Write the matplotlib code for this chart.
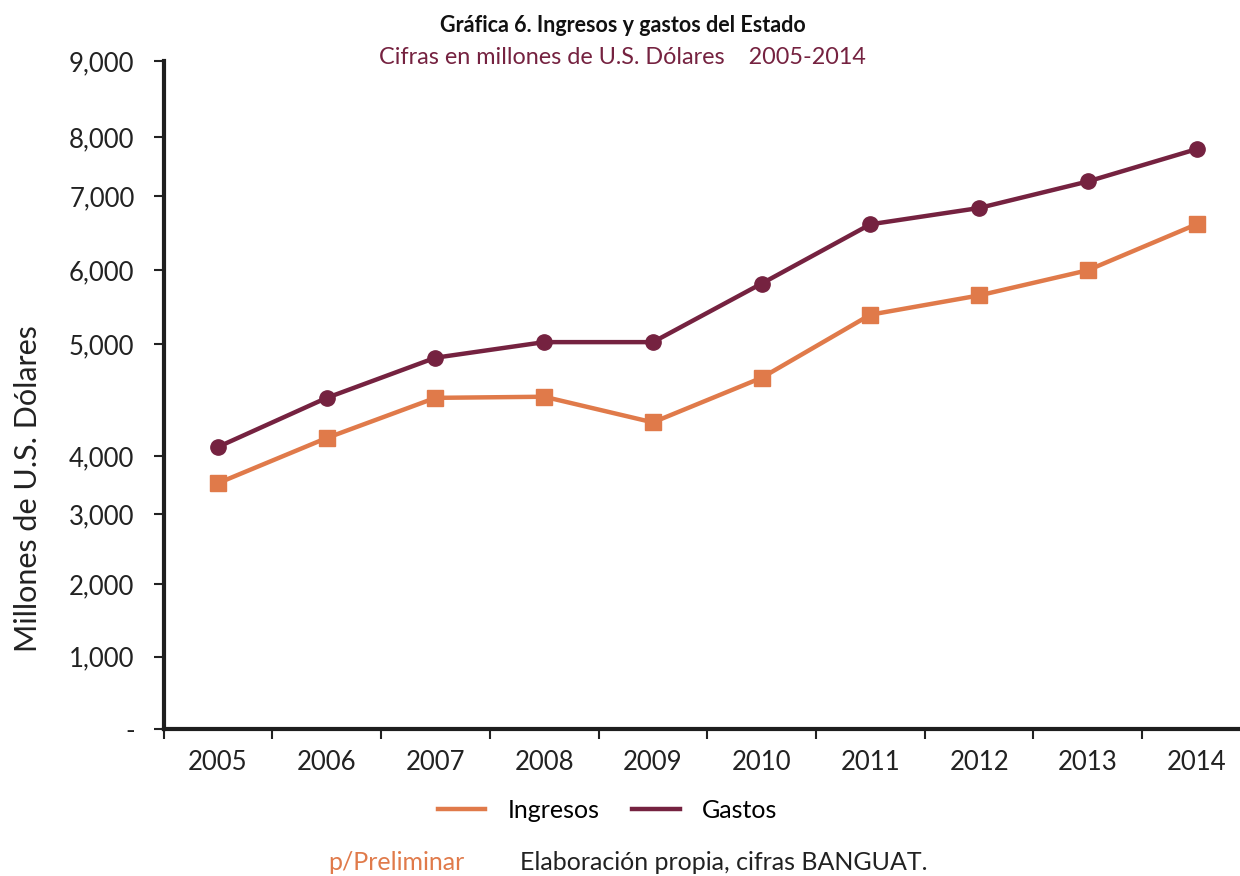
import matplotlib
matplotlib.use("Agg")
import matplotlib.pyplot as plt
import matplotlib.ticker as mticker
import numpy as np

plt.rcParams['font.family'] = ['Lato', 'DejaVu Sans']

years = ["2005", "2006", "2007", "2008", "2009", "2010", "2011", "2012", "2013", "2014"]
ingresos = [3530, 4160, 4520, 4530, 4300, 4700, 5400, 5660, 6000, 6620]
gastos = [4080, 4520, 4880, 5030, 5030, 5820, 6620, 6840, 7250, 7800]
y_ticks = [0, 1000, 2000, 3000, 4000, 5000, 6000, 7000, 8000, 9000]
y_tick_labels = ["-", "1,000", "2,000", "3,000", "4,000", "5,000",
                 "6,000", "7,000", "8,000", "9,000"]

# the original axis is not evenly spaced: where each tick sits, as a share of the axis height
tick_spots = [0.0, 0.108, 0.217, 0.322, 0.409, 0.576, 0.687, 0.798, 0.886, 1.0]

ORANGE = "#E07A4A"
MAROON = "#752240"


def fwd(v):
    return np.interp(v, y_ticks, tick_spots)


def inv(p):
    return np.interp(p, tick_spots, y_ticks)


fig = plt.figure(figsize=(12.4, 8.76), dpi=100)
ax = fig.add_axes([0.132, 0.168, 0.868, 0.762])

x = np.arange(len(years))
ax.plot(x, ingresos, color=ORANGE, lw=3.2, marker="s", ms=11, label="Ingresos", zorder=3)
ax.plot(x, gastos, color=MAROON, lw=3.2, marker="o", ms=11, label="Gastos", zorder=3)

ax.set_yscale("function", functions=(fwd, inv))
ax.set_ylim(0, 9000)
ax.set_xlim(-0.5, 9.4)

ax.yaxis.set_major_locator(mticker.FixedLocator(y_ticks))
ax.yaxis.set_major_formatter(mticker.FixedFormatter(y_tick_labels))
ax.yaxis.set_minor_locator(mticker.NullLocator())
ax.tick_params(axis="y", which="major", length=7, width=1.5, pad=14,
               labelsize=18.5, colors="#222222")

ax.set_xticks(x)
ax.set_xticklabels(years)
ax.set_xticks(np.arange(-0.5, 9.5, 1), minor=True)
ax.tick_params(axis="x", which="major", length=0, pad=15, labelsize=18.5, colors="#222222")
ax.tick_params(axis="x", which="minor", length=7, width=1.5, color="#222222")

for s in ["top", "right"]:
    ax.spines[s].set_visible(False)
for s in ["left", "bottom"]:
    ax.spines[s].set_linewidth(3)
    ax.spines[s].set_color("#1e1e1e")

ax.set_ylabel("Millones de U.S. Dólares", fontsize=22, color="#222222")
ax.yaxis.set_label_coords(-0.113, 0.36)

fig.text(0.502, 0.971, "Gráfica 6. Ingresos y gastos del Estado", ha="center", va="center",
         fontsize=15.5, fontweight="bold", color="#111111")
fig.text(0.502, 0.934, "Cifras en millones de U.S. Dólares    2005-2014", ha="center", va="center",
         fontsize=16.8, color=MAROON)

fig.legend(loc="center", bbox_to_anchor=(0.49, 0.075), ncol=2, frameon=False,
           fontsize=18, handlelength=1.9, columnspacing=1.3, handletextpad=0.9)
for h in fig.legends[0].legend_handles:
    h.set_marker("")

fig.text(0.265, 0.015, "p/Preliminar", fontsize=18, color=ORANGE, va="center")
fig.text(0.419, 0.015, "Elaboración propia, cifras BANGUAT.", fontsize=18,
         color="#222222", va="center")

fig.savefig("out.png", dpi=100)
